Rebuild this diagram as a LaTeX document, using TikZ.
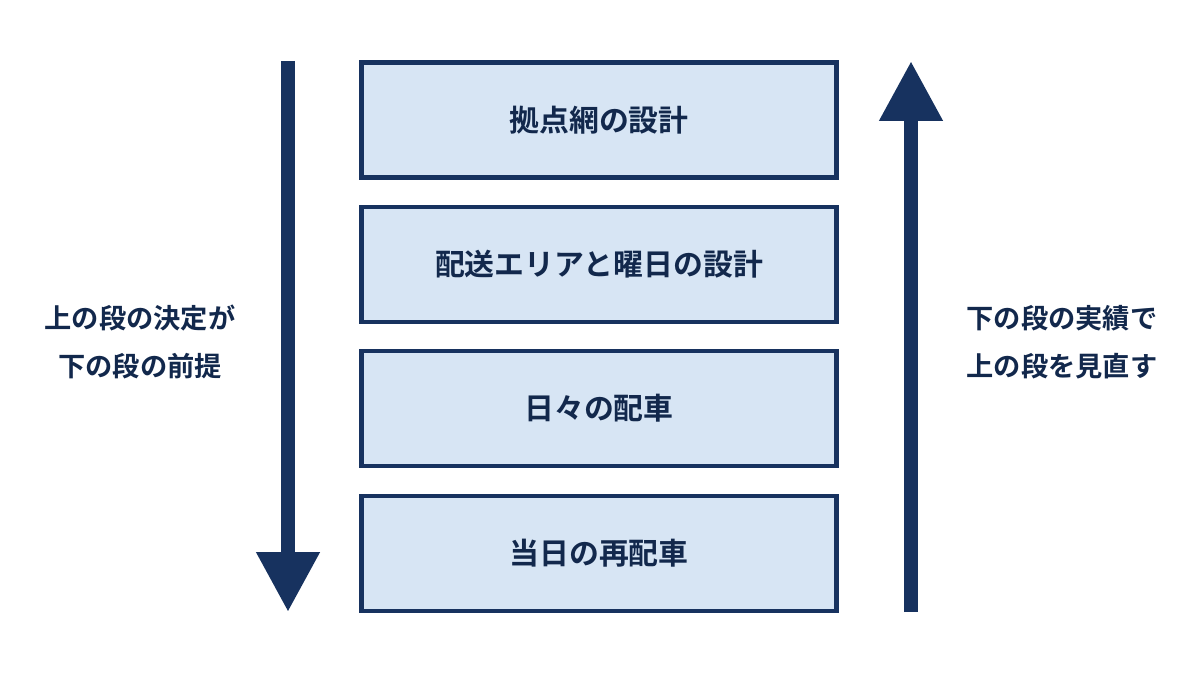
\documentclass[tikz,border=0pt]{standalone}
\usepackage{fontspec}
\newfontfamily\jpfont{Noto Sans CJK JP Bold}
\usetikzlibrary{arrows.meta,positioning}
\definecolor{navy}{HTML}{17325F}
\definecolor{boxfill}{HTML}{D7E5F4}
\tikzset{
  stage/.style={draw=navy, line width=2.6pt, fill=boxfill, minimum width=9.5cm,
    minimum height=2.3cm, inner sep=0pt, font=\jpfont\fontsize{17}{20}\selectfont, text=navy!80!black},
  flow/.style={navy, line width=0.28cm, -{Triangle[length=1.2cm,width=1.2cm]}},
  side/.style={font=\jpfont\fontsize{15.5}{27}\selectfont, text=navy!80!black, align=center}
}
\begin{document}
\begin{tikzpicture}[x=0.02cm,y=-0.02cm]
  \useasboundingbox (0,0) rectangle (1200,675);
  %
  \node[stage] (s1) at (599,120) {拠点網の設計};
  \node[stage] (s2) at (599,264.5) {配送エリアと曜日の設計};
  \node[stage] (s3) at (599,408.5) {日々の配車};
  \node[stage] (s4) at (599,553.5) {当日の再配車};
  %
  \coordinate (ltop) at (288,61);
  \coordinate (lbot) at (288,612);
  \coordinate (rbot) at (911,612);
  \coordinate (rtop) at (911,61);
  \draw[flow] (ltop) -- (lbot);
  \draw[flow] (rbot) -- (rtop);
  %
  \node[side] (down) at (140,342) {上の段の決定が\\下の段の前提};
  \node[side] (up) at (1062,342) {下の段の実績で\\上の段を見直す};
\end{tikzpicture}
\end{document}
